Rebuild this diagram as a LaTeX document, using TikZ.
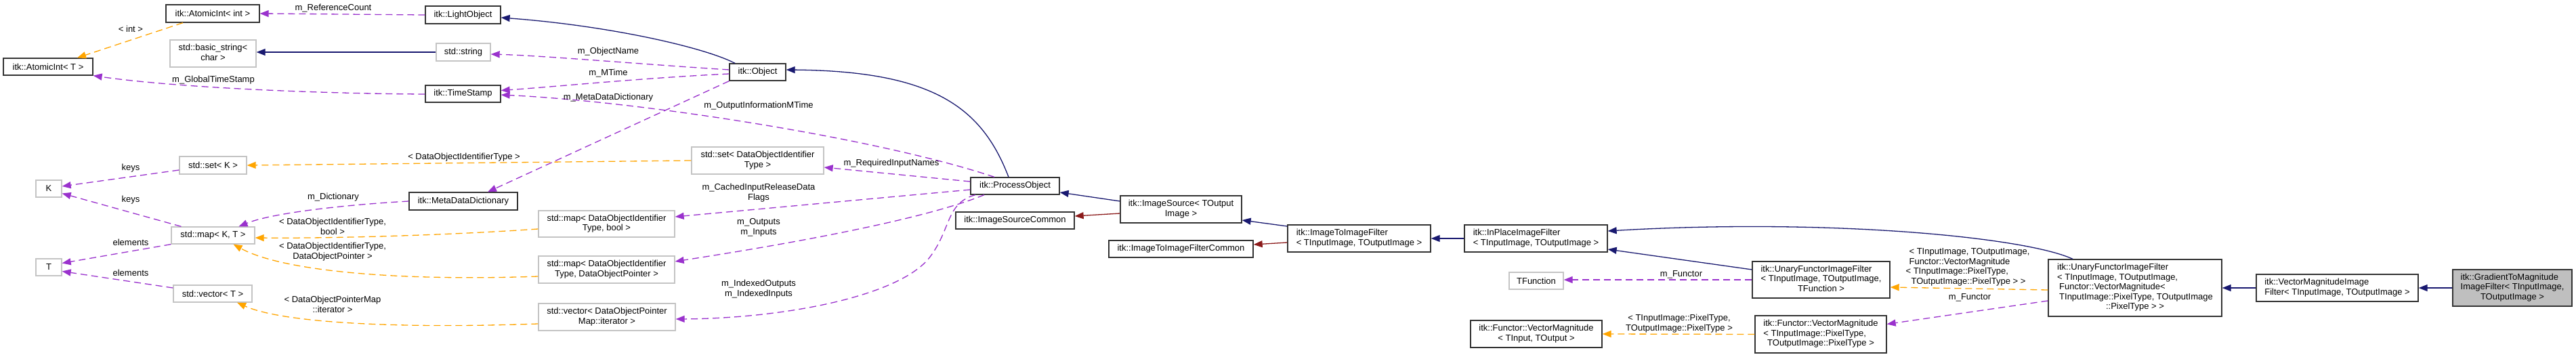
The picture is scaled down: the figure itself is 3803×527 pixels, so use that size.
\documentclass[tikz,border=0pt]{standalone}
\usepackage{fontspec}
\setmainfont{Liberation Sans}
\usetikzlibrary{arrows.meta}
\definecolor{dxblue}{HTML}{191970}
\definecolor{dxred}{HTML}{8B1A1A}
\definecolor{dxpurple}{HTML}{9A32CD}
\definecolor{dxorange}{HTML}{FFA500}
\definecolor{dxgray}{HTML}{BFBFBF}
\definecolor{dxborder}{HTML}{333333}
\definecolor{dxlight}{HTML}{C4C4C4}
\newcommand{\dxl}[1]{\begin{tabular}{@{}l@{}}#1\end{tabular}}
\newcommand{\dxcc}[1]{\begin{tabular}{@{}c@{}}#1\end{tabular}}
\newcommand{\dxc}[1]{\multicolumn{1}{@{}c@{}}{#1}}
\begin{document}
\begin{tikzpicture}[x=1pt,y=-1pt,
  every node/.style={font=\fontsize{13}{14.5}\selectfont, inner sep=0pt},
  cls/.style n args={2}{draw=dxborder, line width=1.3pt, fill=white, minimum width=#1pt, minimum height=#2pt},
  ext/.style n args={2}{draw=dxlight, line width=1.3pt, fill=white, minimum width=#1pt, minimum height=#2pt},
  inh/.style={draw=dxblue, line width=1.3pt, -{Triangle[length=13pt,width=10pt]}},
  priv/.style={draw=dxred, line width=1.3pt, -{Triangle[length=13pt,width=10pt]}},
  use/.style={draw=dxpurple, line width=1.3pt, dash pattern=on 10pt off 6pt, -{Triangle[length=13pt,width=10pt]}},
  tmpl/.style={draw=dxorange, line width=1.3pt, dash pattern=on 10pt off 6pt, -{Triangle[length=13pt,width=10pt]}}]
\fill[white] (0,0) rectangle (3803,527);
\useasboundingbox (0,0) rectangle (3803,527);

% classes
\node[cls={138}{26}] (aint) at (314,20) {itk::AtomicInt< int >};
\node[cls={132}{25}] (atT) at (71,98.5) {itk::AtomicInt< T >};
\node[ext={127}{40}] (bstr) at (314.5,79) {\dxcc{std::basic\_string<\\char >}};
\node[cls={111}{26}] (lobj) at (683.5,22) {itk::LightObject};
\node[ext={80}{26}] (str) at (684,77) {std::string};
\node[cls={111}{25}] (ts) at (683.5,138.5) {itk::TimeStamp};
\node[cls={83}{25}] (obj) at (1118.5,106.5) {itk::Object};
\node[ext={99}{26}] (setK) at (314.5,244) {std::set< K >};
\node[ext={38}{25}] (K) at (72,278.5) {K};
\node[ext={123}{25}] (mapKT) at (314.5,347.5) {std::map< K, T >};
\node[ext={38}{25}] (T) at (72,394.5) {T};
\node[ext={116}{25}] (vecT) at (314,433.5) {std::vector< T >};
\node[cls={160}{26}] (mdd) at (684,297) {itk::MetaDataDictionary};
\node[ext={195}{40}] (setD) at (1118.5,237) {\dxcc{std::set< DataObjectIdentifier\\Type >}};
\node[ext={201}{39}] (mapB) at (895.5,330.5) {\dxcc{std::map< DataObjectIdentifier\\Type, bool >}};
\node[ext={201}{40}] (mapP) at (895.5,398) {\dxcc{std::map< DataObjectIdentifier\\Type, DataObjectPointer >}};
\node[ext={202}{40}] (vecI) at (896,468) {\dxcc{std::vector< DataObjectPointer\\Map::iterator >}};
\node[cls={131}{25}] (po) at (1498.5,274.5) {itk::ProcessObject};
\node[cls={175}{25}] (isc) at (1498.5,325.5) {itk::ImageSourceCommon};
\node[cls={179}{40}] (is) at (1743.5,309) {\dxcc{itk::ImageSource< TOutput\\Image >}};
\node[cls={213}{25}] (i2ic) at (1743.5,367.5) {itk::ImageToImageFilterCommon};
\node[cls={211}{40}] (i2i) at (2006.5,352) {\dxl{itk::ImageToImageFilter\\< TInputImage, TOutputImage >}};
\node[cls={211}{40}] (ipf) at (2267.5,352) {\dxl{itk::InPlaceImageFilter\\< TInputImage, TOutputImage >}};
\node[cls={203}{54}] (uft) at (2688.5,413) {\dxl{itk::UnaryFunctorImageFilter\\< TInputImage, TOutputImage,\\\dxc{TFunction >}}};
\node[ext={80}{25}] (tf) at (2268,414.5) {TFunction};
\node[cls={194}{40}] (vmio) at (2268,493) {\dxcc{itk::Functor::VectorMagnitude\\< TInput, TOutput >}};
\node[cls={194}{55}] (vmpt) at (2688,493.5) {\dxl{itk::Functor::VectorMagnitude\\< TInputImage::PixelType,\\\dxc{TOutputImage::PixelType >}}};
\node[cls={256}{84}] (ufv) at (3152,425) {\dxl{itk::UnaryFunctorImageFilter\\< TInputImage, TOutputImage,\\\hspace{3pt}Functor::VectorMagnitude<\\\hspace{3pt}TInputImage::PixelType, TOutputImage\\\dxc{::PixelType > >}}};
\node[cls={239}{40}] (vmf) at (3450.5,425) {\dxl{itk::VectorMagnitudeImage\\Filter< TInputImage, TOutputImage >}};
\node[cls={176}{54}, fill=dxgray] (g2m) at (3709,425) {\dxl{itk::GradientToMagnitude\\ImageFilter< TInputImage,\\\dxc{TOutputImage >}}};

% inheritance
\draw[inh] ([xshift=-33.5pt]obj.north) .. controls (1040,70) and (900,38) .. ([yshift=-4pt]lobj.east);
\draw[inh] (str.west) -- (str.west -| bstr.east);
\draw[inh] ([xshift=-9.5pt]po.north) .. controls (1450,160) and (1380,105) .. ([yshift=3.5pt]obj.east);
\draw[inh] ([yshift=12pt]is.west) -- ([yshift=-9.5pt]po.east);
\draw[inh] ([yshift=18pt]i2i.west) -- ([yshift=-16pt]is.east);
\draw[inh] (ipf.west) -- (i2i.east);
\draw[inh] ([yshift=15pt]uft.west) -- ([yshift=-16pt]ipf.east);
\draw[inh] ([xshift=-92pt]ufv.north) .. controls (2990,350) and (2700,322) .. ([yshift=11pt]ipf.east);
\draw[inh] (vmf.west) -- (ufv.east);
\draw[inh] (g2m.west) -- (vmf.east);
\draw[priv] ([yshift=-6pt]is.west) -- ([yshift=6.5pt]isc.east);
\draw[priv] ([yshift=-6pt]i2i.west) -- ([yshift=6.5pt]i2ic.east);

% usage
\draw[use] (lobj.west) -- (aint.east);
\draw[use] ([yshift=-0.5pt]ts.west) .. controls (450,138) and (250,128) .. (atT.south east);
\draw[use] ([yshift=3.5pt]obj.west) .. controls (950,95) and (800,82) .. ([yshift=-3pt]str.east);
\draw[use] ([yshift=-2.5pt]obj.west) .. controls (950,115) and (820,128) .. ([yshift=5pt]ts.east);
\draw[use] (obj.south west) -- ([xshift=36pt]mdd.north);
\draw[use] ([xshift=-30.5pt]po.north) .. controls (1300,205) and (950,150) .. ([yshift=-1.5pt]ts.east);
\draw[use] (mdd.west) .. controls (500,303) and (400,315) .. ([xshift=38pt]mapKT.north);
\draw[use] ([yshift=-7pt]setK.west) -- ([yshift=3.5pt]K.east);
\draw[use] ([xshift=-47pt]mapKT.north) -- ([yshift=-7pt]K.east);
\draw[use] (mapKT.south west) -- ([yshift=6pt]T.east);
\draw[use] ([yshift=8.5pt]vecT.west) -- ([yshift=-6pt]T.east);
\draw[use] ([yshift=6.5pt]po.west) -- ([yshift=-10pt]setD.east);
\draw[use] ([yshift=-5.5pt]po.west) -- ([yshift=10.5pt]mapB.east);
\draw[use] ([xshift=-45.5pt]po.south) .. controls (1350,330) and (1100,370) .. ([yshift=12pt]mapP.east);
\draw[use] ([xshift=-58.5pt]po.south) .. controls (1395,300) and (1405,340) .. (1370,383) .. controls (1320,440) and (1150,470) .. ([yshift=-3pt]vecI.east);
\draw[use] (uft.west) -- (uft.west -| tf.east);
\draw[use] ([yshift=-19pt]ufv.west) -- ([yshift=15pt]vmpt.east);

% template instances
\draw[tmpl] ([xshift=-44pt]aint.south) -- ([xshift=43pt]atT.north);
\draw[tmpl] (setD.west) -- (setK.east);
\draw[tmpl] ([yshift=-7.5pt]mapB.west) .. controls (650,348) and (480,352) .. ([yshift=-3.5pt]mapKT.east);
\draw[tmpl] ([yshift=-10pt]mapP.west) .. controls (600,415) and (420,402) .. ([xshift=30pt]mapKT.south);
\draw[tmpl] ([yshift=-10pt]vecI.west) .. controls (600,485) and (420,478) .. ([xshift=36pt]vecT.south);
\draw[tmpl] ([yshift=-3pt]ufv.west) -- ([yshift=-11pt]uft.east);
\draw[tmpl] (vmpt.west) -- (vmio.east);

% labels
\node (l1) at (492,12) {m\_ReferenceCount};
\node (l2) at (193,43) {< int >};
\node (l3) at (315,118) {m\_GlobalTimeStamp};
\node (l4) at (193,248) {keys};
\node (l5) at (193,295) {keys};
\node (l6) at (193,358) {elements};
\node (l7) at (193,403) {elements};
\node (l8) at (492,291) {m\_Dictionary};
\node (l9) at (685,232) {< DataObjectIdentifierType >};
\node (l10) at (491,336) {\dxcc{< DataObjectIdentifierType,\\bool >}};
\node (l11) at (491,372) {\dxcc{< DataObjectIdentifierType,\\DataObjectPointer >}};
\node (l12) at (491,451) {\dxcc{< DataObjectPointerMap\\::iterator >}};
\node (l13) at (898,76) {m\_ObjectName};
\node (l14) at (898,108) {m\_MTime};
\node (l15) at (898,144) {m\_MetaDataDictionary};
\node (l16) at (1120,156) {m\_OutputInformationMTime};
\node (l17) at (1316,241) {m\_RequiredInputNames};
\node (l18) at (1120,285) {\dxcc{m\_CachedInputReleaseData\\Flags}};
\node (l19) at (1120,336) {\dxcc{m\_Outputs\\m\_Inputs}};
\node (l20) at (1120,427) {\dxcc{m\_IndexedOutputs\\m\_IndexedInputs}};
\node (l21) at (2482,405) {m\_Functor};
\node (l22) at (2479,478) {\dxcc{< TInputImage::PixelType,\\TOutputImage::PixelType >}};
\node (l23) at (2905,394.5) {\dxl{\hspace{5pt}< TInputImage, TOutputImage,\\\hspace{5pt}Functor::VectorMagnitude\\< TInputImage::PixelType,\\\hspace{8pt}TOutputImage::PixelType > >}};
\node (l24) at (2908,439) {m\_Functor};
\end{tikzpicture}
\end{document}
